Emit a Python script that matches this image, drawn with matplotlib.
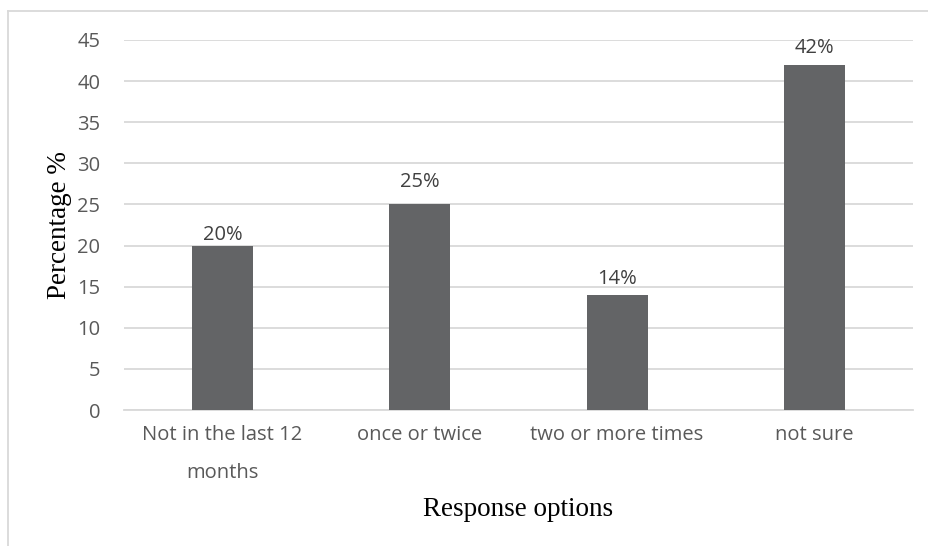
import matplotlib
matplotlib.use("Agg")
import matplotlib.pyplot as plt
from matplotlib.lines import Line2D

categories = ["Not in the last 12\nmonths", "once or twice", "two or more times", "not sure"]
values = [20, 25, 14, 42]
labels = ["20%", "25%", "14%", "42%"]
yticks = [0, 5, 10, 15, 20, 25, 30, 35, 40, 45]
# vertical offsets (points) of the data labels above the bar tops, as placed in the original
label_offsets_pt = [7.5, 16.5, 11.5, 12.0]

fig = plt.figure(figsize=(9.29, 5.46), dpi=100)
ax = fig.add_axes([124/929, 1-410/546, (913-124)/929, (410-40)/546])

x = list(range(len(categories)))
ax.bar(x, values, width=0.31, color="#636466", zorder=3)
for xi, v, lab, off in zip(x, values, labels, label_offsets_pt):
    ax.annotate(lab, xy=(xi, v), xytext=(0, off), textcoords="offset points",
                ha="center", va="center", fontsize=14.5,
                color="#404040", family="Open Sans")

ax.set_xlim(-0.5, len(categories) - 0.5)
ax.set_ylim(0, 45)
ax.set_yticks(yticks)
ax.set_xticks(x)
ax.set_xticklabels(categories, fontsize=14.5, color="#595959", family="Open Sans", linespacing=2.2)
for t in ax.get_yticklabels():
    t.set_fontsize(14.5)
    t.set_color("#595959")
    t.set_family("Open Sans")
ax.tick_params(axis="both", length=0)
ax.tick_params(axis="x", pad=11)
ax.tick_params(axis="y", pad=17)
ax.grid(axis="y", color="#d9d9d9", linewidth=1.3, zorder=0)
for s in ["top", "right", "left"]:
    ax.spines[s].set_visible(False)
ax.spines["bottom"].set_color("#d9d9d9")
ax.spines["bottom"].set_linewidth(1.3)

ax.set_ylabel("Percentage %", fontsize=19.5, family="Liberation Serif", color="black", labelpad=4)
ax.set_xlabel("Response options", fontsize=19.5, family="Liberation Serif", color="black", labelpad=10)

# chart border (top and left visible)
fig.add_artist(Line2D([8/929, 8/929], [0, 1-11/546], transform=fig.transFigure, color="#d9d9d9", lw=1.3))
fig.add_artist(Line2D([8/929, 1], [1-11/546, 1-11/546], transform=fig.transFigure, color="#d9d9d9", lw=1.3))

fig.savefig("out.png", dpi=100)
